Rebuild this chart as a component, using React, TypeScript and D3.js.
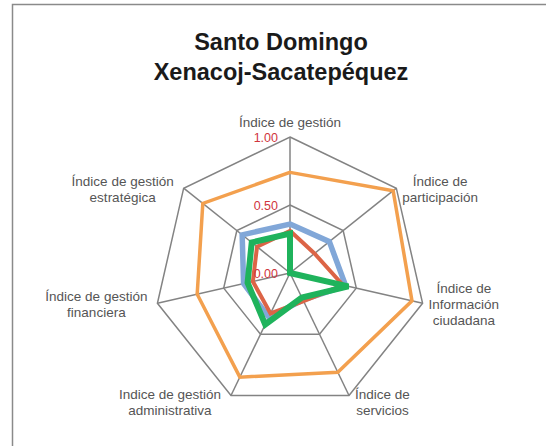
import { useEffect, useRef } from 'react';
import * as d3 from 'd3';

// ejes del radar, en sentido horario desde arriba
const axisLabels: string[][] = [
  ['Índice de gestión'],
  ['Índice de', 'participación'],
  ['Índice de', 'Información', 'ciudadana'],
  ['Índice de', 'servicios'],
  ['Indice de gestión', 'administrativa'],
  ['Índice de gestión', 'financiera'],
  ['Índice de gestión', 'estratégica'],
];

const tickValues = [0, 0.5, 1];

const serieNaranja = [0.74, 0.97, 0.92, 0.81, 0.85, 0.7, 0.82];
const serieAzul = [0.36, 0.37, 0.42, 0.22, 0.36, 0.35, 0.45];
const serieRoja = [0.31, 0.23, 0.4, 0.23, 0.33, 0.28, 0.31];
const serieVerde = [0.29, 0.0, 0.44, 0.2, 0.42, 0.32, 0.36];

const series = [
  { name: 'naranja', values: serieNaranja, color: '#f3a04e', width: 3.5 },
  { name: 'azul', values: serieAzul, color: '#81a7d8', width: 5.5 },
  { name: 'roja', values: serieRoja, color: '#dc6446', width: 4 },
  { name: 'verde', values: serieVerde, color: '#1fb35c', width: 6 },
];

const App = () => {
  const svgRef = useRef<SVGSVGElement>(null);

  useEffect(() => {
    const width = 546;
    const height = 446;
    const cx = 290;
    const cy = 273;
    const radius = 136;
    const n = axisLabels.length;

    const svg = d3.select(svgRef.current)
      .attr('width', width)
      .attr('height', height);
    svg.selectAll('*').remove();

    // marco (solo se ven arriba e izquierda)
    svg.append('path')
      .attr('d', `M12.5,${height} L12.5,4.5 L${width},4.5`)
      .attr('fill', 'none')
      .attr('stroke', '#8a8a8a')
      .attr('stroke-width', 1.5);

    // título
    const title = svg.append('text')
      .attr('x', 281)
      .attr('text-anchor', 'middle')
      .style('font-family', '"Liberation Sans", Arial, sans-serif')
      .style('font-weight', 'bold')
      .style('font-size', '23.5px')
      .style('fill', '#1a1a1a');
    title.append('tspan').attr('x', 281).attr('y', 50).text('Santo Domingo');
    title.append('tspan').attr('x', 281).attr('y', 80).text('Xenacoj-Sacatepéquez');

    const r = d3.scaleLinear().domain([0, 1]).range([0, radius]);
    const angle = (i: number) => (i * 2 * Math.PI) / n;

    const g = svg.append('g').attr('transform', `translate(${cx},${cy})`);

    const radial = d3.lineRadial<number>()
      .angle((_, i) => angle(i))
      .radius(d => r(d))
      .curve(d3.curveLinearClosed);

    // anillos
    tickValues.filter(t => t > 0).forEach(t => {
      g.append('path')
        .attr('d', radial(d3.range(n).map(() => t)))
        .attr('fill', 'none')
        .attr('stroke', '#838383')
        .attr('stroke-width', 1.5);
    });

    // radios
    d3.range(n).forEach(i => {
      const a = angle(i);
      g.append('line')
        .attr('x1', 0).attr('y1', 0)
        .attr('x2', r(1) * Math.sin(a))
        .attr('y2', -r(1) * Math.cos(a))
        .attr('stroke', '#838383')
        .attr('stroke-width', 1.5);
    });

    // series
    series.forEach(s => {
      g.append('path')
        .attr('d', radial(s.values))
        .attr('fill', 'none')
        .attr('stroke', s.color)
        .attr('stroke-width', s.width)
        .attr('stroke-linejoin', 'miter');
    });

    // etiquetas de escala
    g.selectAll('.tick')
      .data(tickValues)
      .enter().append('text')
      .attr('x', -12)
      .attr('y', d => -r(d) + 5)
      .attr('text-anchor', 'end')
      .style('font-family', '"Liberation Sans", Arial, sans-serif')
      .style('font-size', '12.5px')
      .style('fill', '#d0353d')
      .text(d => d.toFixed(2));

    // etiquetas de ejes
    const lineH = 16;
    axisLabels.forEach((lines, i) => {
      const a = angle(i);
      const vx = r(1) * Math.sin(a);
      const vy = -r(1) * Math.cos(a);
      const t = g.append('text')
        .attr('text-anchor', 'middle')
        .style('font-family', '"Liberation Sans", Arial, sans-serif')
        .style('font-size', '13.5px')
        .style('fill', '#555');
      lines.forEach((l, j) => {
        t.append('tspan').attr('x', 0).attr('y', j * lineH).text(l);
      });
      const box = (t.node() as SVGTextElement).getBBox();
      const s = Math.sin(a);
      let tx = vx;
      let ty = vy;
      if (i === 0) {
        ty = vy - 7 - (box.y + box.height);
      } else {
        if (s > 0) tx = vx + 6 + box.width / 2;
        else tx = vx - 10 - box.width / 2;
        const c = Math.cos(a);
        const off = c < -0.5 ? 7 : 1;
        ty = vy + off - (box.y + box.height / 2);
      }
      t.attr('transform', `translate(${tx},${ty})`);
    });
  }, []);

  return (
    <svg ref={svgRef} style={{ position: 'absolute', left: 0, top: 0, background: '#fff' }}></svg>
  );
};

export default App;
